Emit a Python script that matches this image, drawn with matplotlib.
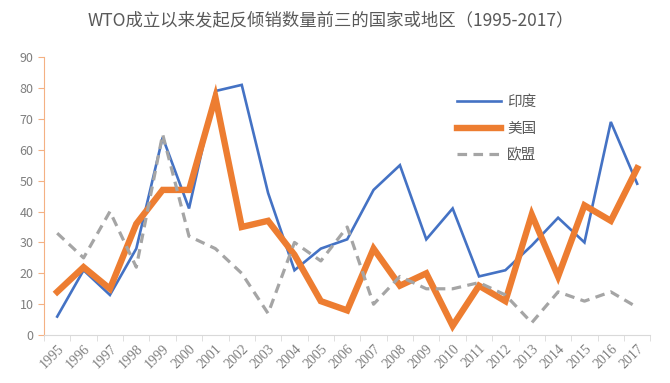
import matplotlib
matplotlib.use("Agg")
import matplotlib.pyplot as plt

plt.rcParams['font.family'] = ['Noto Sans CJK SC', 'DejaVu Sans']

years = [str(y) for y in range(1995, 2018)]
india = [6, 21, 13, 28, 64, 41, 79, 81, 46, 21, 28, 31, 47, 55, 31, 41, 19, 21, 29, 38, 30, 69, 49]
usa = [14, 22, 15, 36, 47, 47, 77, 35, 37, 26, 11, 8, 28, 16, 20, 3, 16, 11, 39, 19, 42, 37, 54]
eu = [33, 25, 40, 22, 65, 32, 28, 20, 7, 30, 24, 35, 10, 19, 15, 15, 17, 13, 4, 14, 11, 14, 9]
title = "WTO成立以来发起反倾销数量前三的国家或地区（1995-2017）"

fig = plt.figure(figsize=(6.7, 3.83), dpi=100)
ax = fig.add_axes([0.0657, 0.125, 0.905, 0.726])
x = list(range(len(years)))
ax.plot(x, india, color='#4472C4', lw=1.9, label='印度', solid_joinstyle='miter')
ax.plot(x, usa, color='#ED7D31', lw=4.6, label='美国', solid_joinstyle='miter')
ax.plot(x, eu, color='#A5A5A5', lw=2.3, ls=(0, (3, 2)), label='欧盟')

ax.set_xlim(-0.5, len(years) - 0.5)
ax.set_ylim(0, 90)
ax.set_yticks(range(0, 91, 10))
ax.set_xticks(x)
ax.set_xticklabels(years, rotation=45, ha='right', rotation_mode='anchor',
                   family=['Liberation Serif', 'DejaVu Serif'], fontsize=10)
ax.set_xticks([i - 0.5 for i in range(len(years) + 1)], minor=True)
ax.tick_params(axis='x', which='major', length=0, colors='#7F7F7F', pad=5)
ax.tick_params(axis='x', which='minor', length=4, color='#D9D9D9')
ax.tick_params(axis='y', length=4, color='#F4B183', labelsize=9, labelcolor='#7F7F7F')
for s in ['top', 'right']:
    ax.spines[s].set_visible(False)
ax.spines['left'].set_color('#F4B183')
ax.spines['bottom'].set_color('#D9D9D9')

leg = ax.legend(loc='upper left', bbox_to_anchor=(0.66, 0.91), frameon=False,
                fontsize=10.5, handlelength=3.0, labelspacing=0.85, handletextpad=0.4)
for t in leg.get_texts():
    t.set_color('#595959')

fig.text(0.493, 0.947, title, ha='center', va='center', fontsize=12.5, color='#595959')
fig.savefig('out.png', dpi=100)
